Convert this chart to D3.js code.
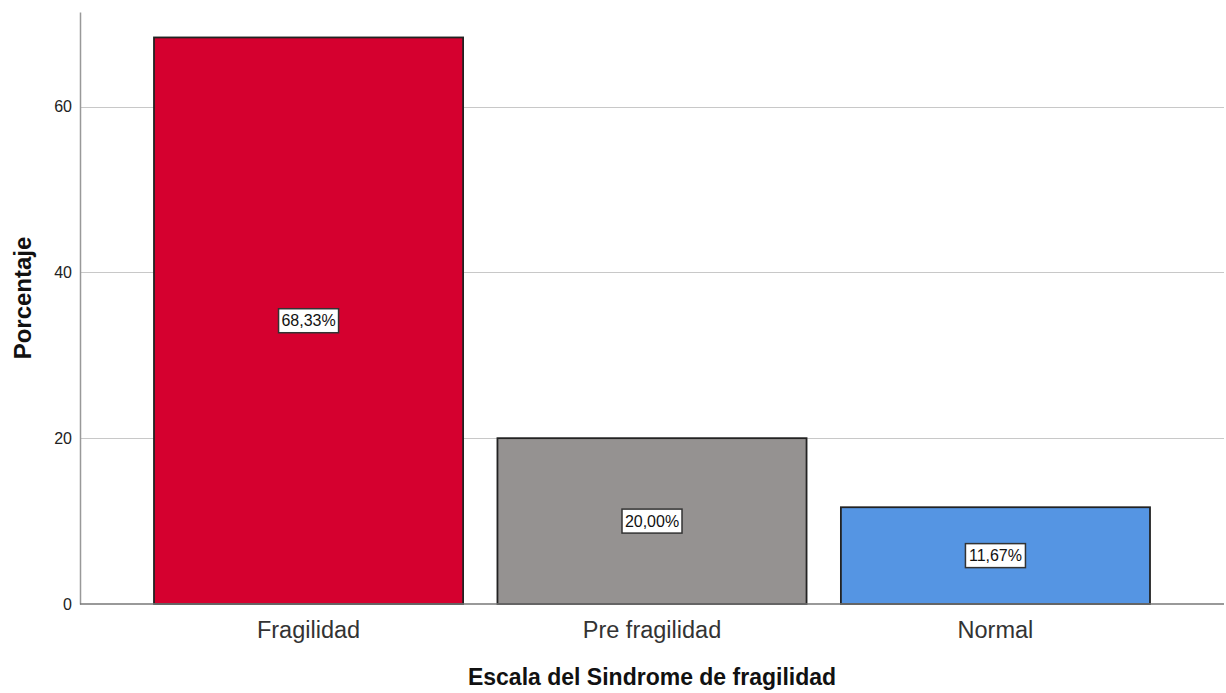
<!DOCTYPE html>
<html>
<head>
<meta charset="utf-8">
<script src="https://cdn.jsdelivr.net/npm/d3@7"></script>
<style>
  body { margin: 0; background: #fff; }
  text { font-family: "Liberation Sans", Arial, sans-serif; }
</style>
</head>
<body>
<div id="chart"></div>
<script>
const categories = ['Fragilidad', 'Pre fragilidad', 'Normal']
const values = [68.33, 20.0, 11.67]
const barLabels = ['68,33%', '20,00%', '11,67%']
const colors = ['#d5002f', '#959291', '#5595e3']
const yTicks = [0, 20, 40, 60]

const width = 1226, height = 693
const margin = { top: 12, right: 2, bottom: 89, left: 80 }

const svg = d3.select('#chart').append('svg')
  .attr('width', width)
  .attr('height', height)

// bars sit between x=154 and x=1150
const x = d3.scaleBand()
  .domain(categories)
  .range([154, 1150])
  .paddingInner(0.1)
  .paddingOuter(0)

const y = d3.scaleLinear()
  .domain([0, 71.4])
  .range([height - margin.bottom, margin.top])

// gridlines
svg.append('g')
  .selectAll('line')
  .data(yTicks.filter(d => d > 0))
  .join('line')
  .attr('x1', margin.left)
  .attr('x2', width - margin.right)
  .attr('y1', d => Math.round(y(d)) + 0.5)
  .attr('y2', d => Math.round(y(d)) + 0.5)
  .attr('stroke', '#c8c8c8')
  .attr('stroke-width', 1.2)

// y axis
const yAxis = svg.append('g')
  .attr('transform', `translate(${margin.left},0)`)
  .call(d3.axisLeft(y).tickValues(yTicks).tickSize(0).tickPadding(8))
yAxis.select('.domain').attr('stroke', '#999').attr('stroke-width', 1.5)
yAxis.selectAll('text').attr('font-size', 16).attr('fill', '#222')
  .attr('font-family', '"Liberation Sans", Arial, sans-serif')

// bars
svg.append('g')
  .selectAll('rect')
  .data(values)
  .join('rect')
  .attr('x', (d, i) => x(categories[i]))
  .attr('y', d => y(d))
  .attr('width', x.bandwidth())
  .attr('height', d => y(0) - y(d))
  .attr('fill', (d, i) => colors[i])
  .attr('stroke', '#222')
  .attr('stroke-width', 1.8)

// baseline
svg.append('line')
  .attr('x1', margin.left)
  .attr('x2', width - margin.right)
  .attr('y1', y(0))
  .attr('y2', y(0))
  .attr('stroke', '#777')
  .attr('stroke-width', 1.5)

// value labels
const lbl = svg.append('g')
  .selectAll('g')
  .data(values)
  .join('g')
  .attr('transform', (d, i) => `translate(${x(categories[i]) + x.bandwidth() / 2},${(y(d) + y(0)) / 2})`)
lbl.append('rect')
  .attr('x', -30).attr('y', -12)
  .attr('width', 60).attr('height', 24)
  .attr('fill', '#fff')
  .attr('stroke', '#333')
  .attr('stroke-width', 1.5)
lbl.append('text')
  .attr('text-anchor', 'middle')
  .attr('dy', '0.36em')
  .attr('font-size', 16)
  .attr('fill', '#111')
  .text((d, i) => barLabels[i])

// category labels
svg.append('g')
  .selectAll('text')
  .data(categories)
  .join('text')
  .attr('x', d => x(d) + x.bandwidth() / 2)
  .attr('y', 638)
  .attr('text-anchor', 'middle')
  .attr('font-size', 23.5)
  .attr('fill', '#333')
  .text(d => d)

// axis titles
svg.append('text')
  .attr('x', 652)
  .attr('y', 685)
  .attr('text-anchor', 'middle')
  .attr('font-size', 23)
  .attr('font-weight', 'bold')
  .attr('fill', '#111')
  .text('Escala del Sindrome de fragilidad')

svg.append('text')
  .attr('transform', `translate(31,298) rotate(-90)`)
  .attr('text-anchor', 'middle')
  .attr('font-size', 24)
  .attr('font-weight', 'bold')
  .attr('fill', '#111')
  .text('Porcentaje')
</script>
</body>
</html>
